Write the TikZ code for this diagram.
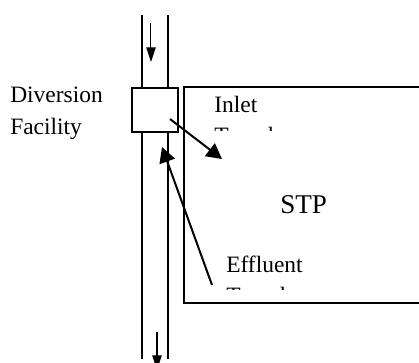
\documentclass[tikz,border=0pt]{standalone}
\usepackage{fontspec}
\setmainfont{Liberation Serif}
\usetikzlibrary{arrows.meta, positioning, calc}

\begin{document}
\begin{tikzpicture}[
    x=0.75pt, y=-0.75pt,
    % --- line and block styles ---
    pipe/.style={line width=1.5pt},
    wall/.style={line width=1.5pt},
    facility/.style={
      draw, rectangle, fill=white, line width=1.5pt,
      minimum width=34.5pt, minimum height=33pt},
    label/.style={
      font=\fontsize{17.6}{23.7}\selectfont, align=left,
      inner sep=0pt, anchor=base west},
    plant/.style={
      font=\fontsize{20.3}{24}\selectfont,
      inner sep=0pt, anchor=base},
    flow/.style={-{Triangle[length=11pt, width=7pt]}, line width=0.75pt},
    bigflow/.style={-{Triangle[length=11.5pt, width=12pt]}, line width=1.5pt},
  ]
  \useasboundingbox (0,0) rectangle (419,362);

  % ── Channel (two walls) ──
  \draw[pipe] (142,15) -- (142,359);
  \draw[pipe] (168,15) -- (168,359);

  % ── STP basin, open to the right ──
  \draw[wall] (430,87) -- (184,87) -- (184,303) -- (430,303);
  \node[plant] (stp) at (303.7,213.3) {STP};

  % ── Diversion facility ──
  \node[facility] (div) at (155,110) {};
  \node[label] (divlabel) at (10,134.3) {Diversion\\Facility};

  % ── Trench labels (cut off by their boxes) ──
  \begin{scope}
    \clip (200,90) rectangle (330,130);
    \node[label] (inlet) at (214,143.6) {Inlet\\Trench};
  \end{scope}
  \begin{scope}
    \clip (215,245) rectangle (340,289.5);
    \node[label] (effluent) at (226,303.6) {Effluent\\Trench};
  \end{scope}

  % ── Flow arrows ──
  \coordinate (topin)    at (151,23);
  \coordinate (topout)   at (151,62);
  \coordinate (divout)   at (170,119);
  \coordinate (inletend) at (222,159);
  \coordinate (effstart) at (212,285);
  \coordinate (effend)   at (162,147);
  \coordinate (botin)    at (157,332);
  \coordinate (botout)   at (157,370);

  \draw[flow] (topin) -- (topout);
  \draw[bigflow] (divout) -- (inletend);
  \draw[bigflow] (effstart) -- (effend);
  \draw[flow] (botin) -- (botout);

\end{tikzpicture}
\end{document}
